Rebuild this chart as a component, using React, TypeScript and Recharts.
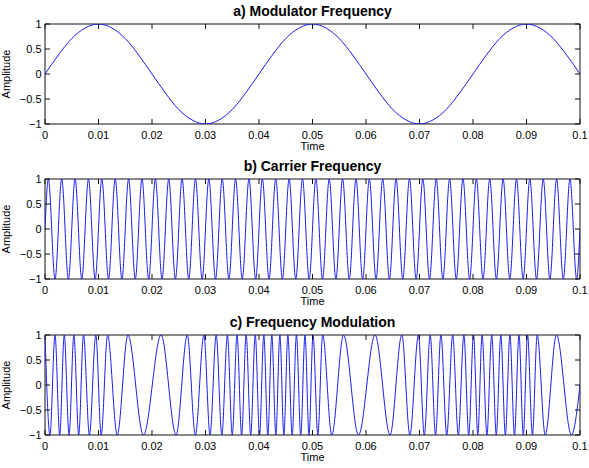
import React from "react";
import { LineChart, Line, XAxis, YAxis, CartesianGrid } from "recharts";

// time axis in milliseconds (labels shown in seconds)
const xTicks = [0, 10, 20, 30, 40, 50, 60, 70, 80, 90, 100];
const xTickLabels = ["0", "0.01", "0.02", "0.03", "0.04", "0.05", "0.06", "0.07", "0.08", "0.09", "0.1"];
const yTicks = [-1, -0.5, 0, 0.5, 1];
const yTickLabels = ["\u22121", "\u22120.5", "0", "0.5", "1"];

// a) modulator, read every 2.5 ms
const modTimes = [
  0, 2.5, 5, 7.5, 10, 12.5, 15, 17.5, 20, 22.5, 25, 27.5, 30, 32.5, 35, 37.5, 40, 42.5, 45, 47.5,
  50, 52.5, 55, 57.5, 60, 62.5, 65, 67.5, 70, 72.5, 75, 77.5, 80, 82.5, 85, 87.5, 90, 92.5, 95, 97.5, 100,
];
const modValues = [
  0, 0.38, 0.71, 0.92, 1, 0.92, 0.71, 0.38, 0, -0.38, -0.71, -0.92, -1, -0.92, -0.71, -0.38,
  0, 0.38, 0.71, 0.92, 1, 0.92, 0.71, 0.38, 0, -0.38, -0.71, -0.92, -1, -0.92, -0.71, -0.38,
  0, 0.38, 0.71, 0.92, 1, 0.92, 0.71, 0.38, 0,
];

// b) carrier: times (ms) of the tops and bottoms, zero at both ends
const carrierPeaks = [
  0.625, 3.125, 5.625, 8.125, 10.625, 13.125, 15.625, 18.125, 20.625, 23.125,
  25.625, 28.125, 30.625, 33.125, 35.625, 38.125, 40.625, 43.125, 45.625, 48.125,
  50.625, 53.125, 55.625, 58.125, 60.625, 63.125, 65.625, 68.125, 70.625, 73.125,
  75.625, 78.125, 80.625, 83.125, 85.625, 88.125, 90.625, 93.125, 95.625, 98.125,
];
const carrierTroughs = [
  1.875, 4.375, 6.875, 9.375, 11.875, 14.375, 16.875, 19.375, 21.875, 24.375,
  26.875, 29.375, 31.875, 34.375, 36.875, 39.375, 41.875, 44.375, 46.875, 49.375,
  51.875, 54.375, 56.875, 59.375, 61.875, 64.375, 66.875, 69.375, 71.875, 74.375,
  76.875, 79.375, 81.875, 84.375, 86.875, 89.375, 91.875, 94.375, 96.875, 99.375,
];
const carrierZeros = [0, 100];

// c) frequency modulated signal: tops and bottoms (ms)
const fmPeaks = [
  0, 1.87, 3.6, 5.4, 7.2, 9.5, 11.7, 15.5, 21.7, 26.6, 29.7, 32.0, 34.1, 35.9, 37.6, 39.3,
  40.9, 42.4, 43.9, 45.4, 47.0, 48.6, 50.1, 51.9, 55.8, 61.7, 66.7, 69.8, 72.0, 74.0, 76.2,
  78.3, 80.1, 81.7, 83.5, 85.2, 86.9, 88.6, 90.2, 92.0, 95.6,
];
const fmTroughs = [
  0.93, 2.75, 4.5, 6.3, 8.3, 10.5, 13.5, 18.4, 24.5, 28.1, 30.85, 33.05, 35.0, 36.75, 38.45,
  40.1, 41.65, 43.15, 44.65, 46.2, 47.8, 49.35, 51.0, 53.6, 58.6, 64.5, 68.2, 70.9, 73.0,
  75.1, 77.25, 79.2, 80.9, 82.6, 84.35, 86.05, 87.75, 89.4, 91.1, 93.5, 98.4,
];
const fmZeros = [100];

type Pt = { t: number; v: number };

function extremaSeries(peaks: number[], troughs: number[], zeros: number[]): Pt[] {
  const pts = [
    ...peaks.map((t) => ({ t, v: 1 })),
    ...troughs.map((t) => ({ t, v: -1 })),
    ...zeros.map((t) => ({ t, v: 0 })),
  ];
  return pts.sort((a, b) => a.t - b.t);
}

const modData: Pt[] = modTimes.map((t, i) => ({ t, v: modValues[i] }));
const carrierData = extremaSeries(carrierPeaks, carrierTroughs, carrierZeros);
const fmData = extremaSeries(fmPeaks, fmTroughs, fmZeros);

// ---------------------------------------------------------------------------
// layout
// ---------------------------------------------------------------------------

const W = 589;
const H = 160;
const MARGIN = { top: 24, right: 9, bottom: 6, left: 10 };
const Y_W = 35;
const X_H = 30;
const PLOT_L = MARGIN.left + Y_W;
const PLOT_R = W - MARGIN.right;
const PLOT_T = MARGIN.top;
const PLOT_B = H - MARGIN.bottom - X_H;

const AX = "#111";
const FONT = "'Liberation Sans', Arial, Helvetica, sans-serif";

function XTick({ x, payload }: { x?: number; payload?: { value: number } }) {
  const i = xTicks.indexOf(payload?.value ?? -1);
  return (
    <g>
      <line x1={x} x2={x} y1={PLOT_B} y2={PLOT_B - 5} stroke={AX} />
      <line x1={x} x2={x} y1={PLOT_T} y2={PLOT_T + 5} stroke={AX} />
      <text x={x} y={PLOT_B + 14.5} textAnchor="middle" fontSize={11} fontFamily={FONT} fill="#000">
        {i >= 0 ? xTickLabels[i] : String(payload?.value)}
      </text>
    </g>
  );
}

function YTick({ y, payload }: { y?: number; payload?: { value: number } }) {
  const i = yTicks.indexOf(payload?.value ?? -9);
  return (
    <g>
      <line x1={PLOT_L} x2={PLOT_L + 5} y1={y} y2={y} stroke={AX} />
      <line x1={PLOT_R} x2={PLOT_R - 5} y1={y} y2={y} stroke={AX} />
      <text x={PLOT_L - 3.5} y={(y ?? 0) + 4} textAnchor="end" fontSize={11} fontFamily={FONT} fill="#000">
        {i >= 0 ? yTickLabels[i] : String(payload?.value)}
      </text>
    </g>
  );
}

function Panel({ top, title, data }: { top: number; title: string; data: Pt[] }) {
  return (
    <div style={{ position: "absolute", left: 0, top, width: W, height: H }}>
      <LineChart width={W} height={H} data={data} margin={MARGIN}>
        <CartesianGrid
          stroke={AX}
          strokeWidth={1}
          horizontalCoordinatesGenerator={() => [PLOT_T, PLOT_B]}
          verticalCoordinatesGenerator={() => [PLOT_L, PLOT_R]}
        />
        <XAxis
          type="number"
          dataKey="t"
          domain={[0, 100]}
          ticks={xTicks}
          interval={0}
          allowDataOverflow
          height={X_H}
          axisLine={false}
          tickLine={false}
          tickSize={0}
          tick={<XTick />}
        />
        <YAxis
          type="number"
          domain={[-1, 1]}
          ticks={yTicks}
          interval={0}
          allowDataOverflow
          width={Y_W}
          axisLine={false}
          tickLine={false}
          tickSize={0}
          tick={<YTick />}
        />
        <Line
          type="monotone"
          dataKey="v"
          stroke="#1a1af0"
          strokeWidth={1}
          dot={false}
          isAnimationActive={false}
        />
      </LineChart>
      <svg
        width={W}
        height={H}
        style={{ position: "absolute", left: 0, top: 0, pointerEvents: "none" }}
      >
        <text
          x={(PLOT_L + PLOT_R) / 2}
          y={15.5}
          textAnchor="middle"
          fontSize={14}
          fontWeight="bold"
          fontFamily={FONT}
          fill="#000"
        >
          {title}
        </text>
        <text
          x={(PLOT_L + PLOT_R) / 2}
          y={PLOT_B + 26}
          textAnchor="middle"
          fontSize={11}
          fontFamily={FONT}
          fill="#000"
        >
          Time
        </text>
        <text
          transform={`translate(10, ${(PLOT_T + PLOT_B) / 2}) rotate(-90)`}
          textAnchor="middle"
          fontSize={11}
          fontFamily={FONT}
          fill="#000"
        >
          Amplitude
        </text>
      </svg>
    </div>
  );
}

export default function App() {
  return (
    <div
      style={{
        position: "absolute",
        left: 0,
        top: 0,
        width: W,
        height: 468,
        background: "#fff",
        overflow: "hidden",
      }}
    >
      <Panel top={0} title="a) Modulator Frequency" data={modData} />
      <Panel top={155} title="b) Carrier Frequency" data={carrierData} />
      <Panel top={311} title="c) Frequency Modulation" data={fmData} />
    </div>
  );
}
